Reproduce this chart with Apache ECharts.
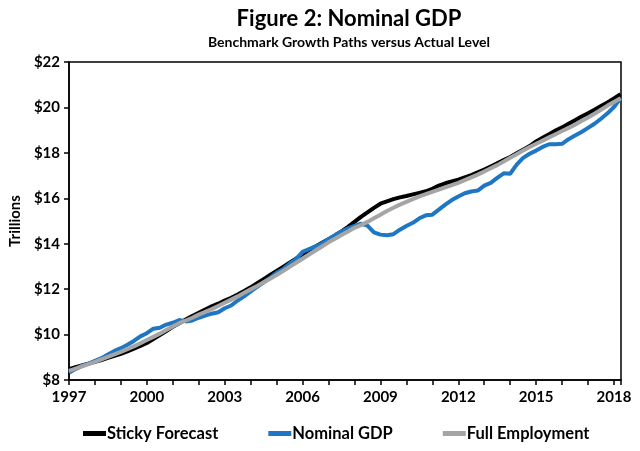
<!DOCTYPE html>
<html>
<head>
<meta charset="utf-8">
<script src="https://cdn.jsdelivr.net/npm/echarts@6/dist/echarts.min.js"></script>
<style>
  html, body { margin: 0; padding: 0; background: #fff; }
  #grafico1 { width: 640px; height: 451px; }
</style>
</head>
<body>
<div id="grafico1"></div>
<script>
// quarterly, 1997Q1 .. 2018Q2, trillions of dollars
var firstYear = 1997;
var stickyForecast = [
  8.48, 8.56, 8.64, 8.72, 8.80, 8.88, 8.97, 9.06, 9.15, 9.26, 9.38, 9.50,
  9.63, 9.80, 9.98, 10.16, 10.34, 10.50, 10.66, 10.82, 10.96, 11.10, 11.24, 11.36,
  11.50, 11.62, 11.76, 11.92, 12.08, 12.26, 12.44, 12.62, 12.80, 12.98, 13.16, 13.34,
  13.54, 13.72, 13.88, 14.04, 14.20, 14.36, 14.54, 14.74, 14.96, 15.18, 15.38, 15.58,
  15.76, 15.86, 15.96, 16.04, 16.10, 16.17, 16.24, 16.31, 16.42, 16.56, 16.66, 16.74,
  16.82, 16.92, 17.02, 17.14, 17.26, 17.40, 17.54, 17.68, 17.82, 17.98, 18.14, 18.30,
  18.50, 18.66, 18.82, 18.98, 19.12, 19.28, 19.44, 19.60, 19.74, 19.90, 20.06, 20.22,
  20.40, 20.58
];
var nominalGdp = [
  8.32, 8.48, 8.62, 8.72, 8.84, 8.96, 9.12, 9.28, 9.40, 9.55, 9.72, 9.92,
  10.06, 10.26, 10.30, 10.44, 10.52, 10.64, 10.58, 10.62, 10.74, 10.84, 10.92, 10.98,
  11.16, 11.28, 11.50, 11.68, 11.90, 12.10, 12.30, 12.50, 12.72, 12.88, 13.12, 13.32,
  13.64, 13.76, 13.88, 14.02, 14.20, 14.38, 14.54, 14.68, 14.78, 14.88, 14.80, 14.50,
  14.40, 14.37, 14.42, 14.62, 14.78, 14.92, 15.12, 15.25, 15.28, 15.50, 15.72, 15.92,
  16.08, 16.22, 16.30, 16.34, 16.56, 16.68, 16.90, 17.10, 17.08, 17.48, 17.78, 17.96,
  18.10, 18.26, 18.38, 18.38, 18.40, 18.60, 18.76, 18.92, 19.10, 19.28, 19.50, 19.74,
  20.02, 20.40
];
var fullEmployment = [
  8.40, 8.50, 8.60, 8.70, 8.80, 8.91, 9.02, 9.13, 9.24, 9.36, 9.48, 9.62,
  9.76, 9.90, 10.04, 10.20, 10.36, 10.50, 10.62, 10.74, 10.88, 11.00, 11.12, 11.26,
  11.40, 11.54, 11.68, 11.84, 11.99, 12.14, 12.30, 12.46, 12.62, 12.80, 12.98, 13.16,
  13.34, 13.52, 13.70, 13.88, 14.06, 14.22, 14.38, 14.54, 14.70, 14.82, 14.96, 15.12,
  15.28, 15.44, 15.58, 15.72, 15.84, 15.96, 16.08, 16.18, 16.28, 16.38, 16.48, 16.58,
  16.68, 16.80, 16.92, 17.04, 17.18, 17.32, 17.46, 17.62, 17.78, 17.94, 18.10, 18.26,
  18.40, 18.54, 18.68, 18.82, 18.96, 19.10, 19.24, 19.40, 19.56, 19.72, 19.90, 20.08,
  20.24, 20.40
];
var seriesNames = ['Sticky Forecast', 'Nominal GDP', 'Full Employment'];
var seriesColors = ['#000000', '#1f77c4', '#a5a5a5'];

function toPoints(arr) {
  return arr.map(function (v, i) {
    return [firstYear + i / 4, v];
  });
}

var FONT = 'Lato';

var dom = document.getElementById('grafico1');
var myChart = echarts.init(dom, null, {
  renderer: 'canvas',
  useDirtyRect: false,
});

var option;

option = {
  backgroundColor: '#ffffff',
  animation: false,
  title: {
    text: 'Figure 2: Nominal GDP',
    subtext: 'Benchmark Growth Paths versus Actual Level',
    left: 344,
    textAlign: 'center',
    top: 3,
    itemGap: 5,
    textStyle: {
      fontFamily: FONT,
      fontWeight: 'bold',
      fontSize: 22,
      color: '#000',
    },
    subtextStyle: {
      fontFamily: FONT,
      fontWeight: 'bold',
      fontSize: 14,
      color: '#000',
    },
  },
  legend: {
    bottom: 4,
    left: 78,
    data: seriesNames,
    icon: 'rect',
    itemWidth: 23,
    itemHeight: 5,
    itemGap: 50,
    textStyle: {
      fontFamily: FONT,
      fontWeight: 'bold',
      fontSize: 16.5,
      color: '#000',
      padding: [0, 0, 0, -4],
    },
  },
  grid: {
    left: 66,
    right: 19,
    top: 62,
    bottom: 71,
    show: true,
    borderColor: '#000',
    borderWidth: 1.5,
  },
  xAxis: {
    type: 'value',
    min: 1997,
    max: 2018.27,
    interval: 3,
    splitLine: { show: false },
    axisLine: { lineStyle: { color: '#000', width: 1.5 } },
    axisTick: { length: 5, lineStyle: { color: '#000', width: 1.5 } },
    minorTick: { show: true, splitNumber: 3, length: 5, lineStyle: { color: '#000', width: 1.5 } },
    axisLabel: {
      fontFamily: FONT,
      fontWeight: 'bold',
      fontSize: 15,
      color: '#000',
      margin: 10,
      showMaxLabel: false,
      formatter: function (v) {
        return (v - firstYear) % 3 === 0 ? String(v) : '';
      },
    },
  },
  yAxis: {
    type: 'value',
    min: 8,
    max: 22,
    interval: 2,
    name: 'Trillions',
    nameLocation: 'middle',
    nameGap: 46,
    nameRotate: 90,
    nameTextStyle: {
      fontFamily: FONT,
      fontWeight: 'bold',
      fontSize: 15,
      color: '#000',
    },
    splitLine: { show: false },
    axisLine: { show: true, lineStyle: { color: '#000', width: 1.5 } },
    axisTick: { show: true, length: 5, lineStyle: { color: '#000', width: 1.5 } },
    axisLabel: {
      fontFamily: FONT,
      fontWeight: 'bold',
      fontSize: 15,
      color: '#000',
      margin: 9,
      formatter: '${value}',
    },
  },
  series: [
    {
      name: seriesNames[0],
      type: 'line',
      data: toPoints(stickyForecast),
      showSymbol: false,
      lineStyle: { width: 4, color: seriesColors[0] },
      itemStyle: { color: seriesColors[0] },
    },
    {
      name: seriesNames[1],
      type: 'line',
      data: toPoints(nominalGdp),
      showSymbol: false,
      lineStyle: { width: 4, color: seriesColors[1] },
      itemStyle: { color: seriesColors[1] },
    },
    {
      name: seriesNames[2],
      type: 'line',
      data: toPoints(fullEmployment),
      showSymbol: false,
      lineStyle: { width: 4, color: seriesColors[2] },
      itemStyle: { color: seriesColors[2] },
    },
  ],
};

if (option && typeof option === 'object') {
  myChart.setOption(option);
}

window.addEventListener('resize', myChart.resize);
</script>
</body>
</html>
